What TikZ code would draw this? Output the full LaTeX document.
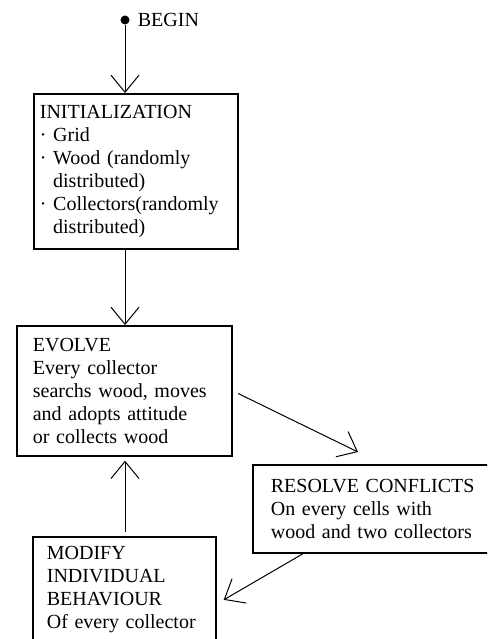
\documentclass[tikz,border=0pt]{standalone}
\usepackage{fontspec}
\setmainfont{Liberation Serif}
\usetikzlibrary{arrows.meta,calc}
\tikzstyle{line} = [draw, line width=1pt, -{Straight Barb[length=17pt,width=28pt,line width=1pt]}]
\tikzstyle{block} = [draw, line width=1.7pt, rectangle, anchor=north west, align=left, inner ysep=0pt]
\tikzstyle{dot} = [circle, fill, inner sep=0pt, minimum size=9pt]

\begin{document}
\begin{tikzpicture}[x=1pt, y=-1pt, font=\fontsize{20}{23}\selectfont]
        \clip (0,0) rectangle (487,639);
        \node[dot, label={[inner sep=0pt, label distance=8pt]right:BEGIN}] (begin) at (125,20) {};
        \node[block, inner xsep=6pt, text width=192pt, minimum height=155pt] (init) at (33,93)
            {INITIALIZATION\\
             · Grid\\
             · Wood (randomly\\
             \phantom{· }distributed)\\
             · Collectors(randomly\\
             \phantom{· }distributed)};
        \node[block, inner xsep=16pt, text width=183pt, minimum height=130pt] (evolve) at (16,325)
            {EVOLVE\\
             Every collector\\
             searchs wood, moves\\
             and adopts attitude\\
             or collects wood};
        \node[block, inner xsep=18pt, text width=215pt, minimum height=88pt] (resolve) at (252,464)
            {RESOLVE CONFLICTS\\
             On every cells with\\
             wood and two collectors};
        \node[block, inner xsep=14pt, text width=155pt, minimum height=106pt] (modify) at (32,536)
            {MODIFY\\
             INDIVIDUAL\\
             BEHAVIOUR\\
             Of every collector};
        \coordinate (rin) at ($(resolve.north west)+(106,-12)$);
        \coordinate (rout) at ($(resolve.south west)+(51,0)$);
        \coordinate (min) at ($(modify.east)+(7,10)$);
        \path[line] (begin) -- (begin |- init.north);
        \path[line] (begin |- init.south) -- (begin |- evolve.north);
        \path[line, shorten <=6pt] (evolve.east) -- (rin);
        \path[line] (rout) -- (min);
        \path[line, shorten <=4pt, shorten >=4pt] (begin |- modify.north) -- (begin |- evolve.south);
\end{tikzpicture}
\end{document}
